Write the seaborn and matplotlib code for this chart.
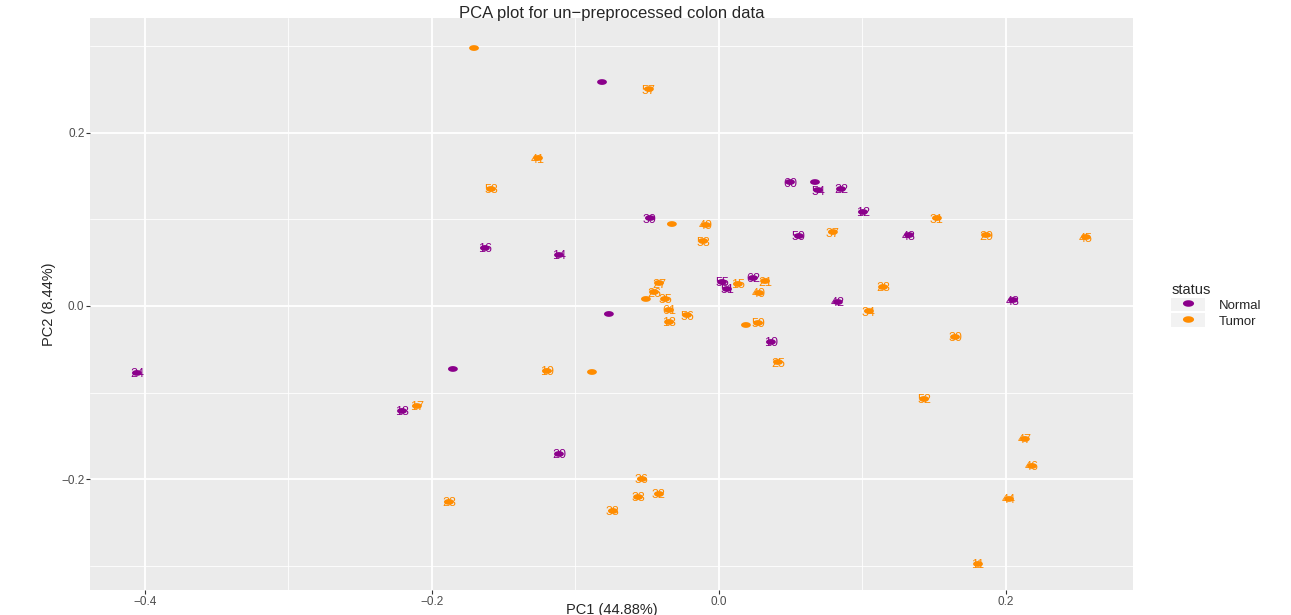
import matplotlib
matplotlib.use("Agg")
import matplotlib.pyplot as plt
import numpy as np
import pandas as pd
import seaborn as sns
from matplotlib.lines import Line2D
from matplotlib.patches import Patch
from matplotlib.legend_handler import HandlerTuple
from matplotlib.ticker import MultipleLocator

# PCA scores
pc1 = [-0.1707, -0.0815, -0.0488, -0.1261, -0.1589, -0.0481, -0.0328, -0.0091,
       -0.0111, -0.1631, -0.1115, 0.0495, 0.0669, 0.0690, 0.0850, 0.1003,
       0.1519, 0.0557, 0.0794, 0.1324, 0.1861, 0.2557, 0.1143, 0.0829,
       0.1045, 0.2049, 0.1645, -0.0418, -0.0453, -0.0509, -0.0376, 0.0021,
       0.0237, 0.0321, 0.0132, 0.0056, 0.0279, -0.0767, -0.0348, -0.0223,
       -0.0348, 0.0188, 0.0272, 0.0362, 0.0411, -0.1854, -0.1199, -0.0885,
       -0.1115, -0.0537, -0.0564, -0.0418, -0.0739, -0.1882, -0.4056, -0.2209,
       -0.2105, 0.1429, 0.2132, 0.2181, 0.2021, 0.1805]
pc2 = [0.2974, 0.2582, 0.2501, 0.1706, 0.1349, 0.1014, 0.0945, 0.0934,
       0.0749, 0.0669, 0.0588, 0.1429, 0.1429, 0.1337, 0.1349, 0.1084,
       0.1014, 0.0807, 0.0853, 0.0818, 0.0818, 0.0795, 0.0219, 0.0046,
       -0.0058, 0.0069, -0.0357, 0.0265, 0.0161, 0.0081, 0.0081, 0.0277,
       0.0323, 0.0288, 0.0254, 0.0196, 0.0150, -0.0092, -0.0046, -0.0104,
       -0.0184, -0.0219, -0.0196, -0.0415, -0.0646, -0.0726, -0.0749, -0.0761,
       -0.1706, -0.1994, -0.2202, -0.2167, -0.2363, -0.2259, -0.0772, -0.1210,
       -0.1153, -0.1072, -0.1533, -0.1844, -0.2225, -0.2974]
status = ["Tumor", "Normal", "Tumor", "Tumor", "Tumor", "Normal", "Tumor", "Tumor",
          "Tumor", "Normal", "Normal", "Normal", "Normal", "Normal", "Normal", "Normal",
          "Tumor", "Normal", "Tumor", "Normal", "Tumor", "Tumor", "Tumor", "Normal",
          "Tumor", "Normal", "Tumor", "Tumor", "Tumor", "Tumor", "Tumor", "Normal",
          "Normal", "Tumor", "Tumor", "Normal", "Tumor", "Normal", "Tumor", "Tumor",
          "Tumor", "Tumor", "Tumor", "Normal", "Tumor", "Normal", "Tumor", "Tumor",
          "Normal", "Tumor", "Tumor", "Tumor", "Tumor", "Tumor", "Normal", "Normal",
          "Tumor", "Tumor", "Tumor", "Tumor", "Tumor", "Tumor"]
labels = ["", "", "57", "41", "58", "39", "", "49",
          "53", "16", "14", "60", "", "54", "22", "12",
          "31", "50", "37", "48", "29", "45", "28", "42",
          "34", "43", "30", "27", "26", "", "35", "55",
          "62", "21", "15", "51", "40", "", "61", "56",
          "13", "", "59", "10", "25", "", "19", "",
          "20", "36", "33", "32", "38", "23", "24", "18",
          "17", "52", "47", "46", "44", "11"]

PALETTE = {"Normal": "#8B008B", "Tumor": "#FF8C00"}

df = pd.DataFrame({"PC1": pc1, "PC2": pc2, "status": status, "label": labels})

sns.set_theme(style="darkgrid", rc={
    "axes.facecolor": "#EBEBEB",
    "grid.color": "white",
    "axes.edgecolor": "#EBEBEB",
})
plt.rcParams["font.family"] = ["Liberation Sans", "DejaVu Sans"]

# flattened dot, the reference is stretched sideways
theta = np.linspace(0, 2 * np.pi, 40)
dot = np.column_stack([1.7 * np.cos(theta), np.sin(theta)])

fig = plt.figure(figsize=(12.91, 6.15), dpi=100)
ax = fig.add_axes([0.0697, 0.0407, 0.8079, 0.9300])

sns.scatterplot(data=df, x="PC1", y="PC2", hue="status", palette=PALETTE,
                marker=dot, s=50, linewidth=0, legend=False, ax=ax)
for _, row in df.iterrows():
    if row["label"]:
        ax.text(row["PC1"], row["PC2"], row["label"], color=PALETTE[row["status"]],
                fontsize=9, ha="center", va="center_baseline", zorder=5)

ax.set_xlim(-0.4383, 0.2885)
ax.set_ylim(-0.3274, 0.332)
ax.set_xticks([-0.4, -0.2, 0.0, 0.2])
ax.set_yticks([-0.2, 0.0, 0.2])
ax.xaxis.set_minor_locator(MultipleLocator(0.1))
ax.yaxis.set_minor_locator(MultipleLocator(0.1))
ax.grid(which="major", color="white", linewidth=1.3)
ax.grid(which="minor", color="white", linewidth=0.6)
ax.tick_params(which="major", length=3, width=0.8, color="#333333", pad=1,
               labelsize=8.5, labelcolor="#4D4D4D", bottom=True, left=True)
ax.tick_params(which="minor", length=0)
for s in ax.spines.values():
    s.set_visible(False)

ax.set_title("PCA plot for un\u2212preprocessed colon data", fontsize=12, pad=0)
ax.set_xlabel("PC1 (44.88%)", fontsize=10.5, labelpad=-3.5)
ax.set_ylabel("PC2 (8.44%)", fontsize=10.5, labelpad=4)

handles = [(Patch(facecolor="#F2F2F2", edgecolor="none"),
            Line2D([], [], marker=dot, linestyle="none", color=PALETTE[k],
                   markersize=8, markeredgewidth=0))
           for k in ["Normal", "Tumor"]]
leg = fig.legend(handles, ["Normal", "Tumor"], title="status",
                 handler_map={tuple: HandlerTuple(ndivide=1, pad=0)},
                 loc="center left", bbox_to_anchor=(0.899, 0.504), frameon=False,
                 fontsize=9.5, title_fontsize=10.5, handlelength=2.6,
                 handleheight=1.2, labelspacing=0.1, handletextpad=1.0,
                 borderpad=0.3)
leg._legend_box.align = "left"

fig.savefig("out.png", dpi=100)
